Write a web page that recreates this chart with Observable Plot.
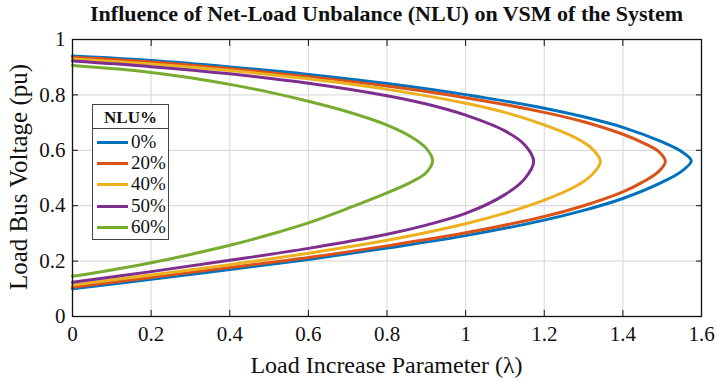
<!DOCTYPE html>
<html>
<head>
<meta charset="utf-8">
<script src="https://cdn.jsdelivr.net/npm/d3@7"></script>
<script src="https://cdn.jsdelivr.net/npm/@observablehq/plot@0.6"></script>
<style>
  body { margin: 0; background: #fff; }
  #wrap { position: relative; width: 716px; height: 382px; font-family: "Liberation Serif", serif; color: #111; }
  #chart { position: absolute; left: 0; top: 0; }
  #chart svg, #chart svg text { font-family: "Liberation Serif", serif !important; }
  .lbl { position: absolute; white-space: nowrap; line-height: 1; font-family: "Liberation Serif", serif; }
  #title { left: 0; width: 773px; text-align: center; top: 3px; font-weight: bold; font-size: 22px; }
  #xlabel { left: 0; width: 773px; text-align: center; top: 353px; font-size: 24px; }
  #ylabel { left: 18px; top: 177px; font-size: 25px; transform: translate(-50%, -50%) rotate(-90deg); }
  #legend { position: absolute; left: 92px; top: 104px; width: 77px; height: 136px; border: 1px solid #444; background: #fff; box-sizing: border-box; }
  #legend, #legend * { font-family: "Liberation Serif", serif !important; }
  #legend .head { height: 23px; border-bottom: 1px solid #444; text-align: center; font-weight: bold; font-size: 17px; line-height: 25px; }
  #legend .row { position: absolute; left: 0; height: 20px; width: 100%; }
  #legend .sw { position: absolute; left: 4px; top: 9px; width: 31px; height: 3px; }
  #legend .tx { position: absolute; left: 38px; top: 0px; font-size: 19px; line-height: 20px; }
</style>
</head>
<body>
<div id="wrap">
  <div id="chart"></div>
  <div id="title" class="lbl">Influence of Net-Load Unbalance (NLU) on VSM of the System</div>
  <div id="xlabel" class="lbl">Load Increase Parameter (λ)</div>
  <div id="ylabel" class="lbl">Load Bus Voltage (pu)</div>
  <div id="legend"></div>
</div>
<script>
const legendTitle = "NLU%";
const seriesNames = ["0%", "20%", "40%", "50%", "60%"];
const seriesColors = ["#0072BD", "#D95319", "#EDB120", "#7E2F8E", "#77AC30"];
const xTicks = [0, 0.2, 0.4, 0.6, 0.8, 1, 1.2, 1.4, 1.6];
const yTicks = [0, 0.2, 0.4, 0.6, 0.8, 1];

// Each curve: [lambda, V] points read from the upper branch, around the nose, down the lower branch
const nlu0 = [[0,0.940],[0.2,0.924],[0.4,0.901],[0.6,0.874],[0.8,0.841],[1.0,0.801],[1.2,0.752],[1.3,0.721],[1.4,0.683],[1.5,0.630],[1.55,0.595],[1.574,0.562],
              [1.55,0.525],[1.5,0.485],[1.4,0.426],[1.3,0.383],[1.2,0.348],[1.0,0.292],[0.8,0.247],[0.6,0.206],[0.4,0.170],[0.2,0.134],[0,0.100]];
const nlu20 = [[0,0.936],[0.2,0.919],[0.4,0.895],[0.6,0.866],[0.8,0.832],[1.0,0.790],[1.2,0.737],[1.3,0.703],[1.4,0.658],[1.45,0.628],[1.49,0.597],[1.508,0.560],
               [1.49,0.522],[1.45,0.485],[1.4,0.450],[1.3,0.400],[1.2,0.361],[1.0,0.302],[0.8,0.255],[0.6,0.213],[0.4,0.177],[0.2,0.141],[0,0.106]];
const nlu40 = [[0,0.930],[0.2,0.912],[0.4,0.888],[0.6,0.858],[0.8,0.820],[1.0,0.770],[1.1,0.737],[1.2,0.692],[1.28,0.645],[1.32,0.608],[1.343,0.560],
               [1.32,0.510],[1.28,0.470],[1.2,0.420],[1.1,0.373],[1.0,0.335],[0.8,0.275],[0.6,0.228],[0.4,0.187],[0.2,0.150],[0,0.114]];
const nlu50 = [[0,0.922],[0.2,0.902],[0.4,0.876],[0.6,0.842],[0.8,0.797],[0.9,0.767],[1.0,0.727],[1.1,0.670],[1.15,0.620],[1.173,0.560],
               [1.15,0.497],[1.1,0.440],[1.0,0.372],[0.9,0.330],[0.8,0.297],[0.6,0.246],[0.4,0.203],[0.2,0.162],[0,0.124]];
const nlu60 = [[0,0.906],[0.1,0.895],[0.2,0.881],[0.3,0.862],[0.4,0.838],[0.5,0.810],[0.6,0.777],[0.7,0.739],[0.8,0.691],[0.86,0.650],[0.9,0.607],[0.916,0.562],
               [0.9,0.520],[0.86,0.484],[0.8,0.446],[0.7,0.390],[0.6,0.338],[0.5,0.295],[0.4,0.257],[0.3,0.224],[0.2,0.194],[0.1,0.168],[0,0.145]];
const seriesData = [nlu0, nlu20, nlu40, nlu50, nlu60];

const rows = seriesData.flatMap((pts, i) => pts.map(([x, y]) => ({x, y, s: seriesNames[i]})));
const fmt = d => String(d);

const chart = Plot.plot({
  width: 716,
  height: 382,
  marginLeft: 72,
  marginRight: 15,
  marginTop: 39,
  marginBottom: 66,
  style: { fontFamily: "'Liberation Serif', serif", fontSize: "21px", color: "#111", background: "#fff" },
  x: { domain: [0, 1.6] },
  y: { domain: [0, 1] },
  color: { domain: seriesNames, range: seriesColors },
  marks: [
    Plot.gridX(xTicks, { stroke: "#dcdcdc", strokeOpacity: 1, strokeWidth: 1.2 }),
    Plot.gridY(yTicks, { stroke: "#dcdcdc", strokeOpacity: 1, strokeWidth: 1.2 }),
    Plot.line(rows, { x: "x", y: "y", z: "s", stroke: "s", strokeWidth: 3, curve: "catmull-rom" }),
    Plot.axisX(xTicks, { anchor: "bottom", tickSize: 0, tickPadding: 10, tickFormat: fmt, label: null, fontSize: 21 }),
    Plot.axisY(yTicks, { anchor: "left", tickSize: 0, tickPadding: 7, tickFormat: fmt, label: null, fontSize: 21 }),
    Plot.axisX(xTicks, { anchor: "bottom", tickSize: -6, tickFormat: () => "", label: null, stroke: "#111" }),
    Plot.axisX(xTicks, { anchor: "top", tickSize: -6, tickFormat: () => "", label: null, stroke: "#111" }),
    Plot.axisY(yTicks, { anchor: "left", tickSize: -6, tickFormat: () => "", label: null, stroke: "#111" }),
    Plot.axisY(yTicks, { anchor: "right", tickSize: -6, tickFormat: () => "", label: null, stroke: "#111" }),
    Plot.frame({ stroke: "#111", strokeWidth: 1.3 })
  ]
});
document.getElementById("chart").appendChild(chart);

const lg = document.getElementById("legend");
const head = document.createElement("div");
head.className = "head";
head.textContent = legendTitle;
lg.appendChild(head);
const rowTops = [27, 48, 69, 91, 112];
seriesNames.forEach((n, i) => {
  const r = document.createElement("div");
  r.className = "row";
  r.style.top = rowTops[i] + "px";
  const sw = document.createElement("div");
  sw.className = "sw";
  sw.style.background = seriesColors[i];
  const tx = document.createElement("div");
  tx.className = "tx";
  tx.textContent = n;
  r.appendChild(sw); r.appendChild(tx);
  lg.appendChild(r);
});
</script>
</body>
</html>
